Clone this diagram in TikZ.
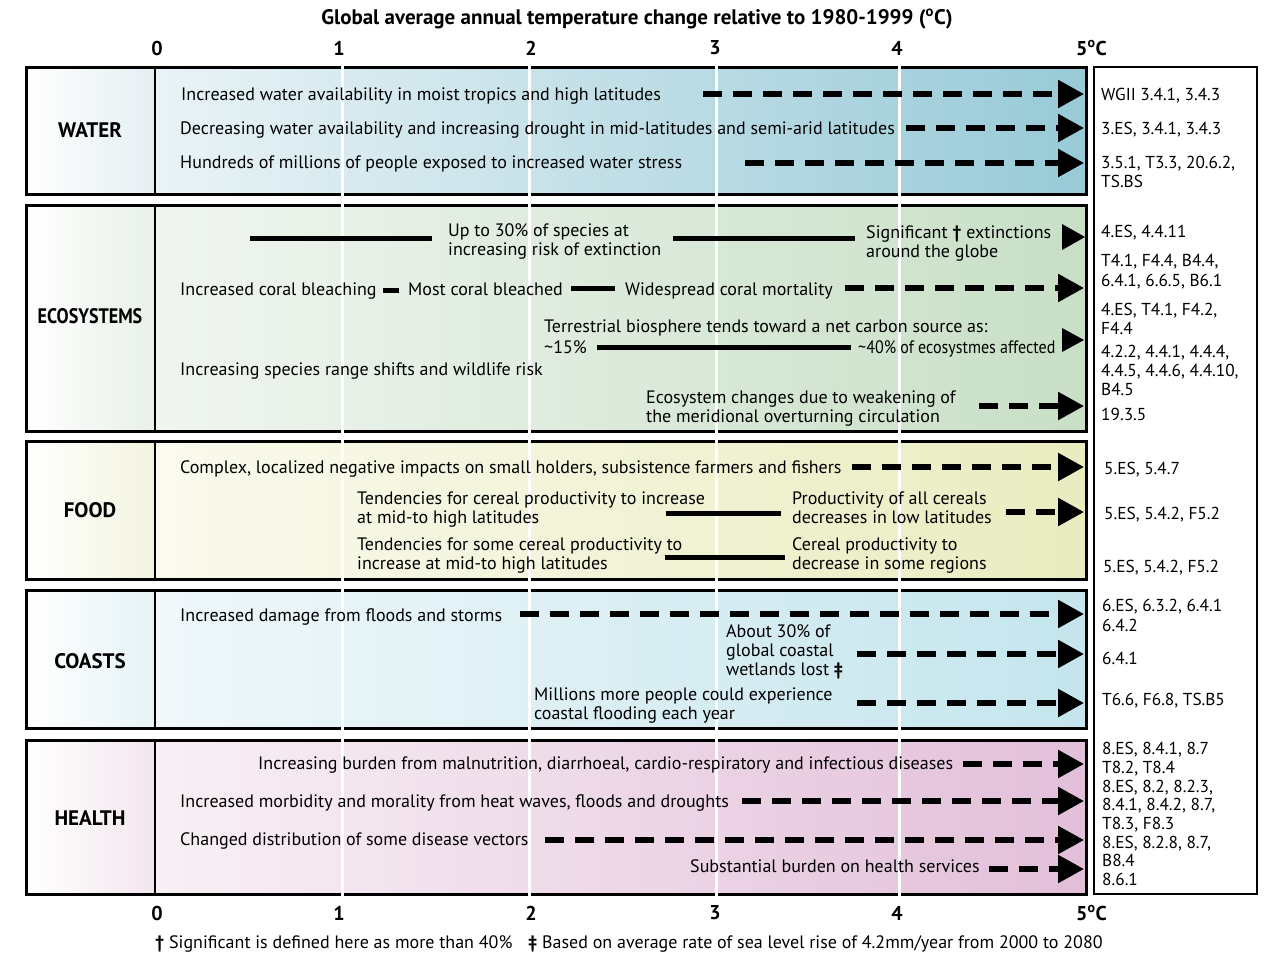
\documentclass[tikz,border=0pt]{standalone}
\usepackage{fontspec}
\usepackage{graphicx}
\setmainfont{PT Sans}
\usetikzlibrary{arrows.meta}
\definecolor{wL}{HTML}{E9F3F6}\definecolor{wR}{HTML}{98CAD7}\definecolor{wC}{HTML}{E4EFF2}
\definecolor{eL}{HTML}{F0F5F0}\definecolor{eR}{HTML}{C8DFC6}\definecolor{eC}{HTML}{E8F0E8}
\definecolor{fL}{HTML}{FAFAEE}\definecolor{fR}{HTML}{E9ECBF}\definecolor{fC}{HTML}{F3F4DF}
\definecolor{cL}{HTML}{F0F8FA}\definecolor{cR}{HTML}{C4E5ED}\definecolor{cC}{HTML}{E6F3F6}
\definecolor{hL}{HTML}{F8F0F5}\definecolor{hR}{HTML}{E2BFD9}\definecolor{hC}{HTML}{F3E6EE}
\begin{document}
\begin{tikzpicture}[x=1pt,y=-1pt,
  txt/.style={anchor=west, inner sep=0pt, align=left, yshift=-2.3pt, font=\fontsize{18}{19}\selectfont,
    execute at begin node=\strut, execute at end node=\strut},
  reftxt/.style={anchor=west, inner sep=0pt, align=left, yshift=-2.3pt, font=\fontsize{17.3}{19.3}\selectfont,
    execute at begin node=\strut, execute at end node=\strut},
  cat/.style={inner sep=0pt, font=\bfseries\fontsize{21}{22}\selectfont},
  axis/.style={inner sep=0pt, font=\bfseries\fontsize{20}{22}\selectfont},
  dasharr/.style={line width=5.5pt, dash pattern=on 19pt off 11pt, -{Triangle[length=26pt,width=27pt]}},
  bar/.style={line width=5pt},
  panel/.style={line width=3pt},
  divider/.style={line width=2.5pt},
  grid/.style={white, line width=3pt}]
\useasboundingbox (0,0) rectangle (1273,953);

% panels
\shade[left color=wL, right color=wR] (155,67) rectangle (1086,194);
\shade[left color=white, right color=wC] (26,67) rectangle (155,194);
\shade[left color=eL, right color=eR] (155,205) rectangle (1086,431);
\shade[left color=white, right color=eC] (26,205) rectangle (155,431);
\shade[left color=fL, right color=fR] (155,441) rectangle (1086,579);
\shade[left color=white, right color=fC] (26,441) rectangle (155,579);
\shade[left color=cL, right color=cR] (155,590) rectangle (1086,728);
\shade[left color=white, right color=cC] (26,590) rectangle (155,728);
\shade[left color=hL, right color=hR] (155,740) rectangle (1086,894);
\shade[left color=white, right color=hC] (26,740) rectangle (155,894);
\foreach \a/\b in {67/194,205/431,441/579,590/728,740/894}{
  \draw[panel] (26,\a) rectangle (1086,\b);
  \draw[divider] (155,\a) -- (155,\b);
}
\draw[line width=2.5pt] (1094,67) rectangle (1257,894);
\foreach \x in {342,529,716,899} \draw[grid] (\x,63) -- (\x,898);

% title and axes
\node[inner sep=0pt, font=\bfseries\fontsize{21}{22}\selectfont] (title) at (637,19) {Global average annual temperature change relative to 1980-1999 (\textsuperscript{o}C)};
\foreach \v/\x [count=\i] in {0/157,1/339,2/531,3/715,4/897}{
  \node[axis] (top\i) at (\x,48) {\v};
  \node[axis] (bot\i) at (\x,913) {\v};
}
\node[axis, anchor=west] (top6) at (1076,48) {5\textsuperscript{o}C};
\node[axis, anchor=west] (bot6) at (1076,913) {5\textsuperscript{o}C};

% category labels
\node[cat] (lw) at (90,130) {WATER};
\node[cat] (le) at (90,316) {\scalebox{0.86}[1]{ECOSYSTEMS}};
\node[cat] (lf) at (90,510) {FOOD};
\node[cat] (lc) at (90,661) {COASTS};
\node[cat] (lh) at (90,818) {HEALTH};

% WATER
\node[txt] (w1) at (181,94) {Increased water availability in moist tropics and high latitudes};
\coordinate (w1a) at (703,94); \coordinate (w1b) at (1084,94);
\draw[dasharr] (w1a) -- (w1b);
\node[txt] (w2) at (180,128) {Decreasing water availability and increasing drought in mid-latitudes and semi-arid latitudes};
\coordinate (w2a) at (906,128); \coordinate (w2b) at (1084,128);
\draw[dasharr] (w2a) -- (w2b);
\node[txt] (w3) at (180,162) {Hundreds of millions of people exposed to increased water stress};
\coordinate (w3a) at (745,163); \coordinate (w3b) at (1084,163);
\draw[dasharr] (w3a) -- (w3b);

% ECOSYSTEMS
\coordinate (e0a) at (250,238); \coordinate (e0b) at (432,238);
\draw[bar] (e0a) -- (e0b);
\node[txt] (e1) at (448,240.5) {Up to 30\% of species at\\increasing risk of extinction};
\coordinate (e1a) at (673,238); \coordinate (e1b) at (855,238);
\draw[bar] (e1a) -- (e1b);
\node[txt] (e2) at (866,242.5) {Significant \textbf{\textdagger} extinctions\\around the globe};
\fill (1062,224) -- (1085,237) -- (1062,250) -- cycle;
\node[txt] (e3) at (180,289) {Increased coral bleaching};
\coordinate (e3a) at (383,290); \coordinate (e3b) at (399,290);
\draw[bar] (e3a) -- (e3b);
\node[txt] (e4) at (408,289) {Most coral bleached};
\coordinate (e4a) at (571,288); \coordinate (e4b) at (615,288);
\draw[bar] (e4a) -- (e4b);
\node[txt] (e5) at (625,289) {Widespread coral mortality};
\coordinate (e5a) at (845,288); \coordinate (e5b) at (1084,288);
\draw[dasharr] (e5a) -- (e5b);
\node[txt] (e6) at (544,326) {Terrestrial biosphere tends toward a net carbon source as:};
\node[txt] (e7) at (544,347) {\textasciitilde15\%};
\coordinate (e7a) at (597,347); \coordinate (e7b) at (851,347);
\draw[bar] (e7a) -- (e7b);
\node[txt] (e8) at (858,347) {\scalebox{0.89}[1]{\textasciitilde40\% of ecosystmes affected}};
\fill (1062,328) -- (1084,340) -- (1062,352) -- cycle;
\node[txt] (e9) at (180,369) {Increasing species range shifts and wildlife risk};
\node[txt] (e10) at (646,407) {Ecosystem changes due to weakening of\\the meridional overturning circulation};
\coordinate (e10a) at (979,406); \coordinate (e10b) at (1084,406);
\draw[dasharr] (e10a) -- (e10b);

% FOOD
\node[txt] (f1) at (180,467) {Complex, localized negative impacts on small holders, subsistence farmers and fishers};
\coordinate (f1a) at (852,467); \coordinate (f1b) at (1084,467);
\draw[dasharr] (f1a) -- (f1b);
\node[txt] (f2) at (357,508) {Tendencies for cereal productivity to increase\\at mid-to high latitudes};
\coordinate (f2a) at (666,513); \coordinate (f2b) at (781,513);
\draw[bar] (f2a) -- (f2b);
\node[txt] (f3) at (792,508) {Productivity of all cereals\\decreases in low latitudes};
\coordinate (f3a) at (1006,512); \coordinate (f3b) at (1084,512);
\draw[dasharr] (f3a) -- (f3b);
\node[txt] (f4) at (357,554.5) {Tendencies for some cereal productivity to\\increase at mid-to high latitudes};
\coordinate (f4a) at (665,557); \coordinate (f4b) at (785,557);
\draw[bar] (f4a) -- (f4b);
\node[txt] (f5) at (792,554.5) {Cereal productivity to\\decrease in some regions};

% COASTS
\node[txt] (c1) at (180,615) {Increased damage from floods and storms};
\coordinate (c1a) at (520,614); \coordinate (c1b) at (1084,614);
\draw[dasharr] (c1a) -- (c1b);
\node[txt] (c2) at (726,651) {About 30\% of\\global coastal\\wetlands lost \textbf{\textdaggerdbl}};
\coordinate (c2a) at (857,654); \coordinate (c2b) at (1084,654);
\draw[dasharr] (c2a) -- (c2b);
\node[txt] (c3) at (534,704) {Millions more people could experience\\coastal flooding each year};
\coordinate (c3a) at (857,703); \coordinate (c3b) at (1084,703);
\draw[dasharr] (c3a) -- (c3b);

% HEALTH
\node[txt] (h1) at (258,763) {Increasing burden from malnutrition, diarrhoeal, cardio-respiratory and infectious diseases};
\coordinate (h1a) at (963,764); \coordinate (h1b) at (1084,764);
\draw[dasharr] (h1a) -- (h1b);
\node[txt] (h2) at (180,801) {Increased morbidity and morality from heat waves, floods and droughts};
\coordinate (h2a) at (742,801); \coordinate (h2b) at (1084,801);
\draw[dasharr] (h2a) -- (h2b);
\node[txt] (h3) at (180,839) {Changed distribution of some disease vectors};
\coordinate (h3a) at (545,840); \coordinate (h3b) at (1084,840);
\draw[dasharr] (h3a) -- (h3b);
\node[txt] (h4) at (690,866) {Substantial burden on health services};
\coordinate (h4a) at (989,869); \coordinate (h4b) at (1084,869);
\draw[dasharr] (h4a) -- (h4b);

% references
\node[reftxt] (r1) at (1101,94) {WGII 3.4.1, 3.4.3};
\node[reftxt] (r2) at (1101,128) {3.ES, 3.4.1, 3.4.3};
\node[reftxt] (r3) at (1101,172.5) {3.5.1, T3.3, 20.6.2,\\TS.BS};
\node[reftxt] (r4) at (1101,231) {4.ES, 4.4.11};
\node[reftxt] (r5) at (1101,271) {T4.1, F4.4, B4.4,\\6.4.1, 6.6.5, B6.1};
\node[reftxt] (r6) at (1101,319.5) {4.ES, T4.1, F4.2,\\F4.4};
\node[reftxt] (r7) at (1101,371) {4.2.2, 4.4.1, 4.4.4,\\4.4.5, 4.4.6, 4.4.10,\\B4.5};
\node[reftxt] (r8) at (1101,414) {19.3.5};
\node[reftxt] (r9) at (1104,468) {5.ES, 5.4.7};
\node[reftxt] (r10) at (1104,513) {5.ES, 5.4.2, F5.2};
\node[reftxt] (r11) at (1103,566) {5.ES, 5.4.2, F5.2};
\node[reftxt] (r12) at (1102,616) {6.ES, 6.3.2, 6.4.1\\6.4.2};
\node[reftxt] (r13) at (1102,658) {6.4.1};
\node[reftxt] (r14) at (1102,699) {T6.6, F6.8, TS.B5};
\node[reftxt, font=\fontsize{17.3}{18.7}\selectfont] (r15) at (1102,814.5) {8.ES, 8.4.1, 8.7\\T8.2, T8.4\\8.ES, 8.2, 8.2.3,\\8.4.1, 8.4.2, 8.7,\\T8.3, F8.3\\8.ES, 8.2.8, 8.7,\\B8.4\\8.6.1};

% footnotes
\node[txt] (n1) at (155,942) {\textbf{\textdagger} Significant is defined here as more than 40\%};
\node[txt] (n2) at (528,942) {\textbf{\textdaggerdbl} Based on average rate of sea level rise of 4.2mm/year from 2000 to 2080};
\end{tikzpicture}
\end{document}
